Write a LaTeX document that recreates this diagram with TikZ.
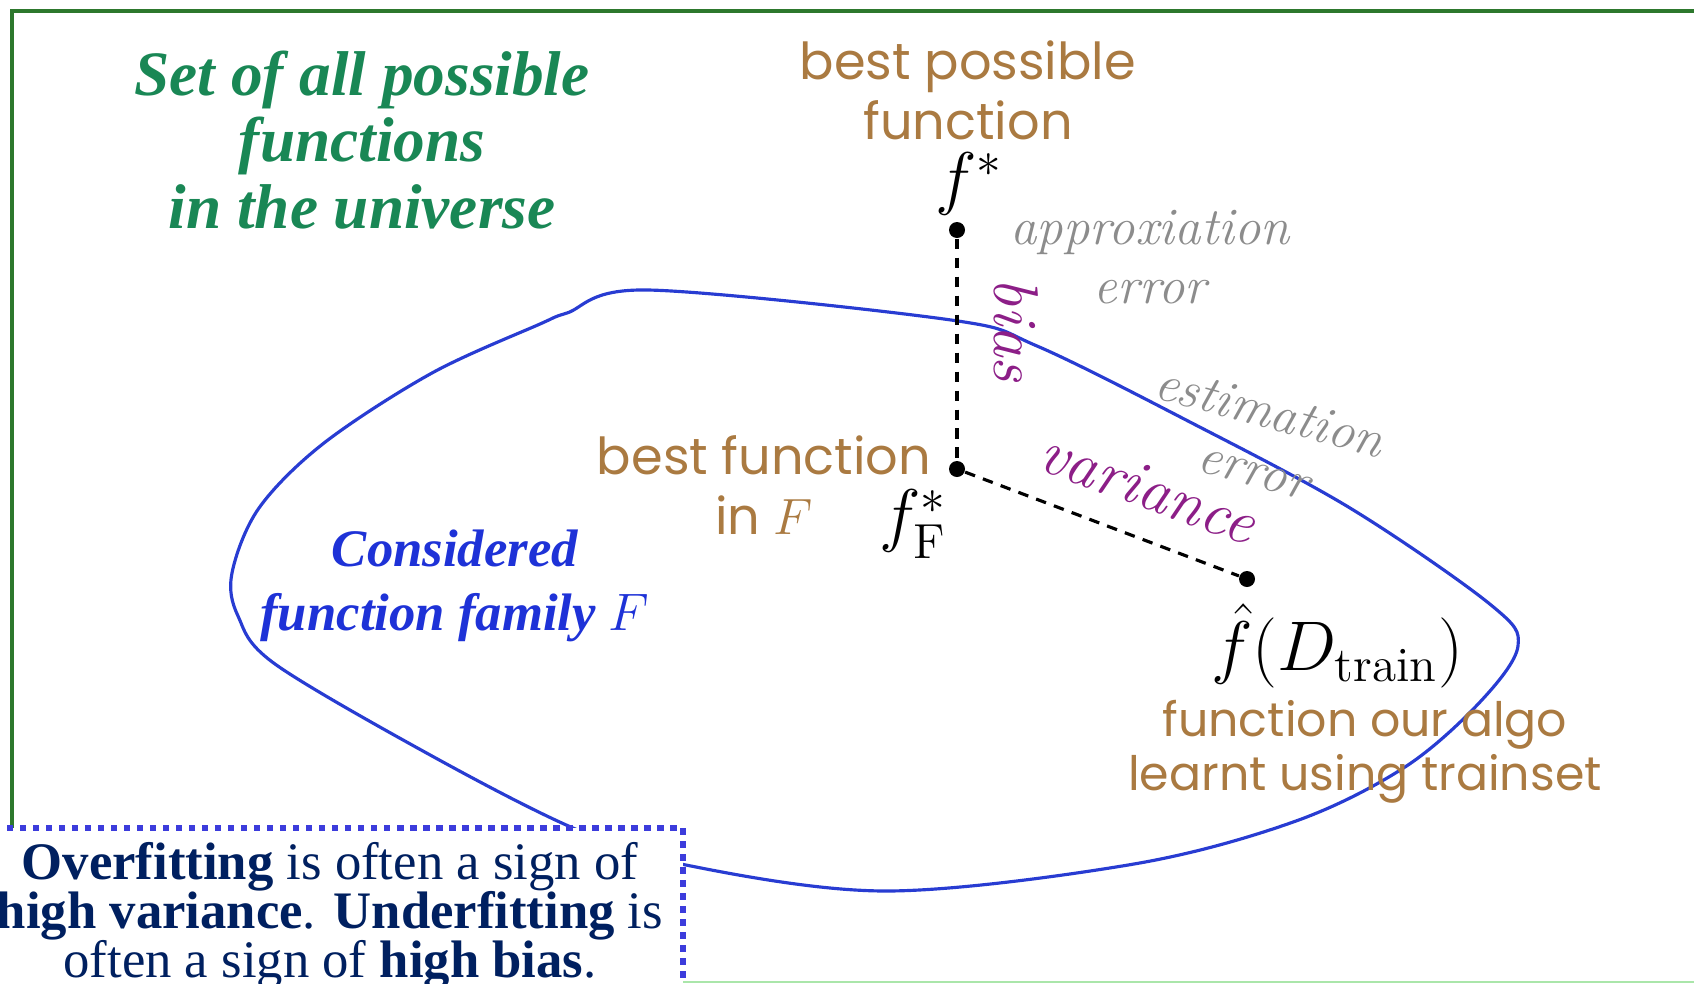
\documentclass[tikz,border=0pt]{standalone}
\usepackage{fix-cm}
\usepackage{fontspec}
\newfontfamily\comicfont{Poppins}
\newfontfamily\timesfont{Liberation Serif}
\usepackage{amsmath}
\definecolor{frameg}{RGB}{45,120,45}
\definecolor{lightg}{RGB}{170,230,170}
\definecolor{setg}{RGB}{25,135,85}
\definecolor{brownc}{RGB}{170,122,65}
\definecolor{grayc}{RGB}{140,140,140}
\definecolor{purplec}{RGB}{140,30,135}
\definecolor{bluec}{RGB}{30,50,215}
\definecolor{curveb}{RGB}{40,60,210}
\definecolor{navyc}{RGB}{0,32,96}
\definecolor{boxb}{RGB}{60,60,220}
\tikzset{
  dot/.style={circle, fill=black, inner sep=0pt, minimum size=1.6mm},
  brownlbl/.style={text=brownc, font=\comicfont\fontsize{14.5}{17}\selectfont, align=center},
  graylbl/.style={text=grayc, font=\itshape\fontsize{15}{17}\selectfont, align=center},
  purplelbl/.style={text=purplec, font=\itshape\fontsize{18}{20}\selectfont},
  mathlbl/.style={font=\fontsize{20}{24}\selectfont},
  errline/.style={line width=0.9pt, dash pattern=on 3pt off 2.4pt},
}

\begin{document}
\begin{tikzpicture}
\useasboundingbox (0,0) rectangle (16.94,9.83);
% universe frame
\draw[frameg, line width=1pt] (0.12,0) -- (0.12,9.72) -- (17,9.72);
\draw[lightg, line width=0.6pt] (6.8,0.01) -- (17,0.01);
\node[text=setg, font=\timesfont\bfseries\itshape\fontsize{18}{19}\selectfont, align=center] (universe) at (3.62,8.43)
  {Set of all possible\\functions\\in the universe};
% function family F
\draw[curveb, line width=0.9pt] plot[smooth cycle, tension=0.55] coordinates {
  (5.67,6.70) (6.48,6.93) (9.51,6.63) (10.37,6.37) (11.88,5.62) (13.50,4.75)
  (14.91,3.78) (15.18,3.37) (14.80,2.81) (14.05,2.16) (12.96,1.62) (11.34,1.19)
  (8.86,0.92) (6.81,1.19) (5.73,1.55) (4.32,2.27) (2.75,3.19) (2.38,3.67)
  (2.32,4.10) (2.59,4.75) (3.24,5.40) (4.32,6.10) (5.40,6.59)};
\node[text=bluec, font=\timesfont\bfseries\itshape\fontsize{15}{18}\selectfont, align=center] (family) at (4.55,3.97)
  {Considered\\function family $F$};
% the three functions
\node[dot] (fstar) at (9.57,7.53) {};
\node[dot] (fF) at (9.57,5.14) {};
\node[dot] (fhat) at (12.47,4.04) {};
\draw[errline] (fstar) -- (fF);
\draw[errline] (fF) -- (fhat);
\node[mathlbl] (fstarlbl) at (9.69,7.99) {$f^*$};
\node[mathlbl] (fFlbl) at (9.13,4.59) {$f^*_{\mathrm{F}}$};
\node[mathlbl] (fhatlbl) at (13.37,3.37) {$\hat f(D_{\mathrm{train}})$};
\node[brownlbl] (bestposs) at (9.68,8.93) {best possible\\function};
\node[brownlbl] (bestF) at (7.64,4.98) {best function\\in $F$};
\node[brownlbl, font=\comicfont\fontsize{13.5}{15.5}\selectfont] (algo) at (13.65,2.31) {function our algo\\learnt using trainset};
% errors
\node[graylbl] (approx) at (11.50,7.26) {approxiation\\error};
\node[graylbl, rotate=-15] (estim) at (12.62,5.43) {estimation\\error};
\node[purplelbl, rotate=-90] (bias) at (10.16,6.53) {bias};
\node[purplelbl, rotate=-20] (variance) at (11.48,4.95) {variance};
% remark box
\draw[boxb, fill=white, line width=1.8pt, dash pattern=on 1.8pt off 1.9pt] (-0.1,-0.1) rectangle (6.83,1.55);
\node[text=navyc, font=\timesfont\fontsize{15}{14}\selectfont, align=center] (remark) at (3.30,0.67)
  {\textbf{Overfitting} is often a sign of\\\textbf{high variance}. \textbf{Underfitting} is\\often a sign of \textbf{high bias}.};
\end{tikzpicture}
\end{document}
